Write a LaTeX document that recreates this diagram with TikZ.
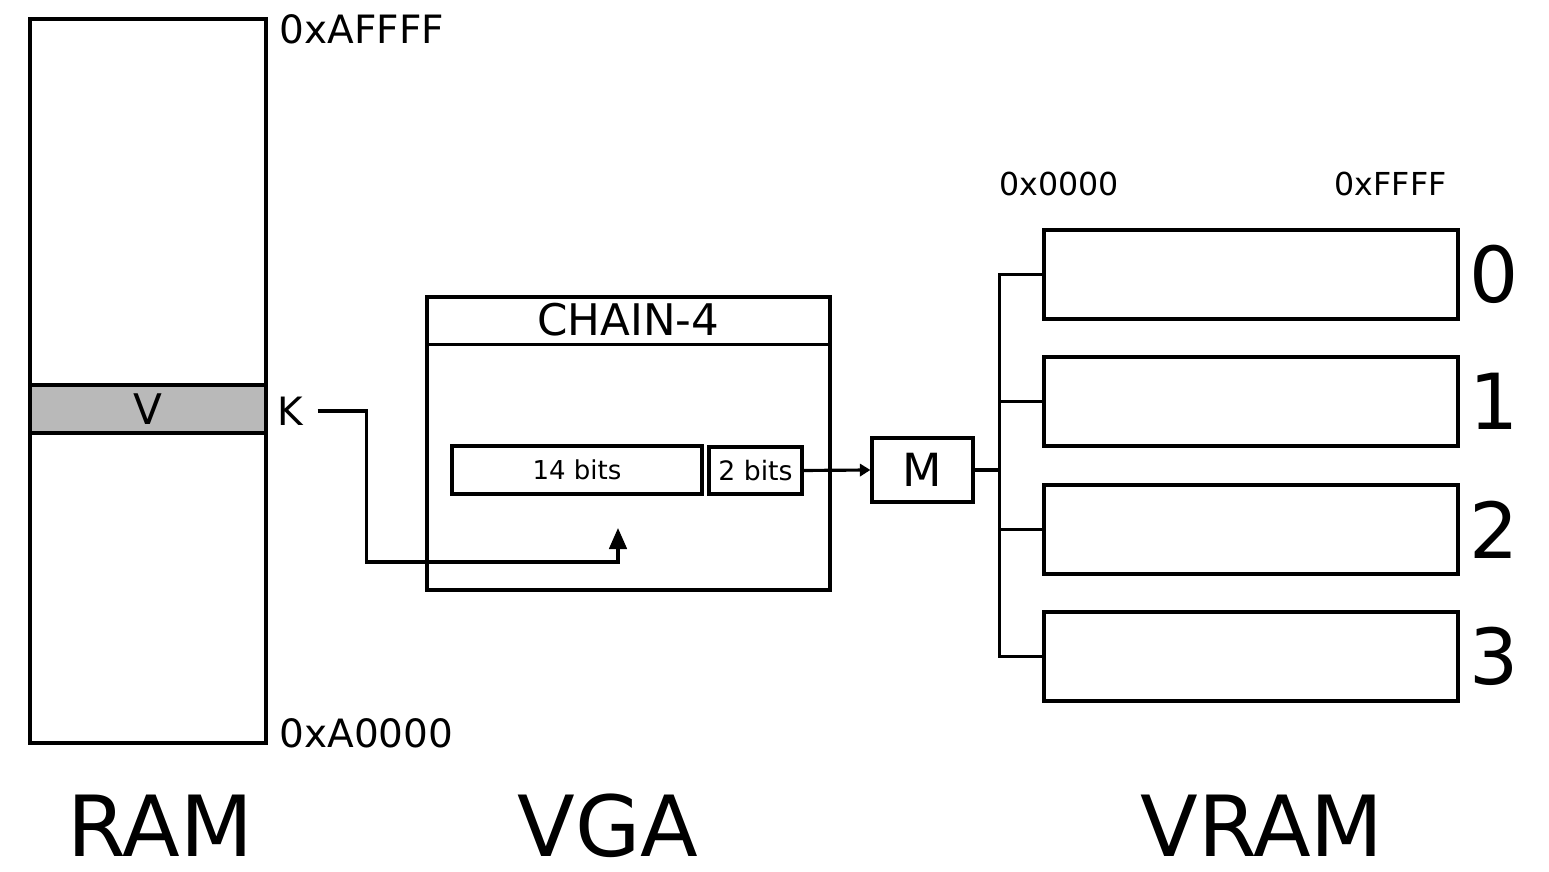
\documentclass[tikz,border=0pt]{standalone}
\usepackage{fontspec}
\setmainfont{DejaVu Sans}
\usetikzlibrary{positioning,arrows.meta}

\begin{document}
\begin{tikzpicture}[line width=0.9pt,
    box/.style={draw, inner sep=0pt},
    addr/.style={inner sep=0pt, font=\fontsize{11.1}{12}\selectfont},
    vaddr/.style={inner sep=0pt, font=\fontsize{9}{10}\selectfont},
    big/.style={inner sep=0pt, font=\fontsize{22}{24}\selectfont},
    title/.style={inner sep=0pt, anchor=base, font=\fontsize{24}{26}\selectfont}]
  \useasboundingbox (0,0) rectangle (15.49,8.72);
  % RAM
  \node[box, minimum width=2.36cm, minimum height=7.24cm] (ram) at (1.48,4.91) {};
  \node[box, fill=gray!55, minimum width=2.36cm, minimum height=0.48cm,
        font=\fontsize{12}{12}\selectfont] (vwin) at (1.48,4.63) {V};
  \node[addr, anchor=west] (kaddr) at (2.76,4.61) {K};
  \node[addr, anchor=west] (ramtop) at (2.78,8.43) {0xAFFFF};
  \node[addr, anchor=west] (rambot) at (2.78,1.39) {0xA0000};
  \node[title] (ramlbl) at (1.60,0.15) {RAM};
  % VGA
  \node[box, minimum width=4.03cm, minimum height=2.93cm] (chain) at (6.285,4.285) {};
  \draw ([yshift=-0.49cm]chain.north west) -- ([yshift=-0.49cm]chain.north east);
  \node[inner sep=0pt, font=\fontsize{12.4}{13}\selectfont] (chaintitle)
        at ([yshift=-0.245cm]chain.north) {CHAIN-4};
  \node[box, minimum width=2.50cm, minimum height=0.48cm,
        font=\fontsize{7.4}{8}\selectfont] (bits14) at (5.77,4.02) {14 bits};
  \node[box, minimum width=0.93cm, minimum height=0.47cm,
        font=\fontsize{7.6}{8}\selectfont] (bits2) at (7.555,4.015) {2 bits};
  \coordinate (sel) at (6.18,3.44);
  \node[title] (vgalbl) at (6.08,0.15) {VGA};
  \node[box, minimum width=1.01cm, minimum height=0.64cm,
        font=\fontsize{13}{13}\selectfont] (mux) at (9.225,4.02) {M};
  % VRAM
  \foreach \i/\y in {0/5.975,1/4.705,2/3.425,3/2.155} {
    \node[box, minimum width=4.14cm, minimum height=0.89cm] (plane\i) at (12.51,\y) {};
    \node[big] (num\i) at (14.94,\y) {\i};
  }
  \coordinate (bus) at (10.01,4.02);
  \node[vaddr, anchor=west] (vstart) at (9.98,6.88) {0x0000};
  \node[vaddr, anchor=east] (vend) at (14.48,6.88) {0xFFFF};
  \node[title] (vramlbl) at (12.62,0.15) {VRAM};
  % connections
  \draw[-{Triangle[length=6pt,width=5pt]}] ([xshift=0.13cm]kaddr.east)
        -| ++(0.49,-1.51) -| (sel);
  \draw[-{Triangle[length=3pt,width=3.5pt]}] (bits2.east) -- (mux.west);
  \draw (mux.east) -- (bus);
  \draw (plane0.west) -- ++(-0.43,0) |- (plane3.west);
  \foreach \i in {1,2}
    \draw (plane\i.west) -- ++(-0.43,0);
\end{tikzpicture}
\end{document}
